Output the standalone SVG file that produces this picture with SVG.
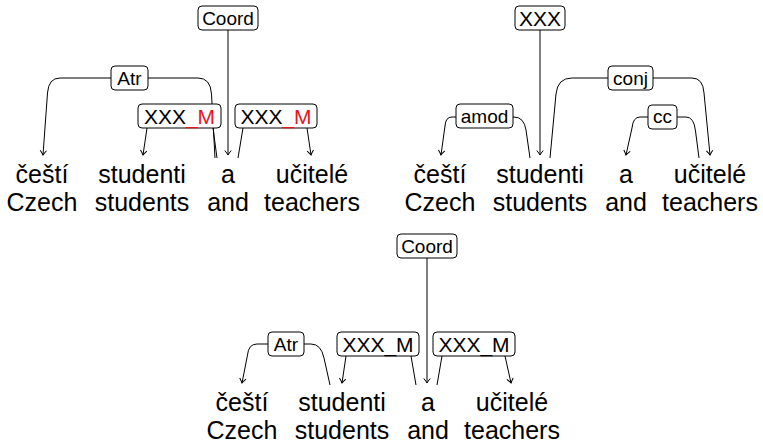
<svg xmlns="http://www.w3.org/2000/svg" width="763" height="443" viewBox="0 0 763 443">
<style>
.bg{fill:#fff}
.box{fill:#fff;stroke:#000;stroke-width:1}
.e{fill:none;stroke:#000;stroke-width:1}
.a{marker-end:url(#ah)}
text{font-family:"Liberation Sans",Arial,sans-serif;text-anchor:middle;fill:#000}
.lbl{font-size:19px}
.big{font-size:21px}
.w{font-size:25px}
.red{fill:#e8141c}
</style>
<defs>
<marker id="ah" viewBox="-6 -5 8 10" markerWidth="8" markerHeight="10" refX="0" refY="0" orient="auto" markerUnits="userSpaceOnUse">
<path d="M-4.5 -3.2 Q-1.5 -0.8 0 0 Q-1.5 0.8 -4.5 3.2" fill="none" stroke="#000" stroke-width="1"/>
</marker>
</defs>
<rect class="bg" x="0" y="0" width="763" height="443"/>

<g id="connectors">
<!-- diagram 1 -->
<path class="e a" d="M228 30 L228 155"/>
<path class="e a" d="M215 158 L211.5 94 Q210.5 78 198 78 L60 78 Q48.5 78 47.5 93 L43 155"/>
<path class="e" d="M217 158 L213 128"/>
<path class="e a" d="M147 128 L143 155"/>
<path class="e" d="M238 158 L243 128"/>
<path class="e a" d="M307 128 L311 155"/>
<!-- diagram 2 -->
<path class="e a" d="M540 30 L540 155"/>
<path class="e a" d="M530 158 L526 130 Q524 117 514 117 L452 117 Q445.5 117 445 126 L441 155"/>
<path class="e a" d="M550 158 L556 94 Q557.5 78 572 78 L692 78 Q703 78 704 93 L710 155"/>
<path class="e a" d="M699 158 L695.5 131 Q694 117 686 117 L640 117 Q633 117 632 128 L626 155"/>
<!-- diagram 3 -->
<path class="e a" d="M427 258 L427 383"/>
<path class="e a" d="M330 385 L324 358 Q321 344 311 344 L257 344 Q248.5 344 247.5 355 L242 383"/>
<path class="e a" d="M346 356 L342 383"/>
<path class="e" d="M416 385 L411 356"/>
<path class="e" d="M437 385 L442 356"/>
<path class="e a" d="M505 356 L511 383"/>
</g>

<!-- diagram 1 labels -->
<g id="d1-coord"><rect class="box" x="198" y="6" width="60" height="24" rx="4"/><text class="lbl" x="228" y="24.8">Coord</text></g>
<g id="d1-atr"><rect class="box" x="111" y="66" width="37" height="24" rx="4"/><text class="lbl" x="129.5" y="84.8">Atr</text></g>
<g id="d1-xxxm1"><rect class="box" x="138" y="104" width="83" height="24" rx="4"/><text class="big" x="179.5" y="123.5">XXX<tspan class="red">_M</tspan></text></g>
<g id="d1-xxxm2"><rect class="box" x="235" y="104" width="82" height="24" rx="4"/><text class="big" x="276" y="123.5">XXX<tspan class="red">_M</tspan></text></g>
<g id="d1-words">
<text class="w" x="42" y="183">čeští</text><text class="w" x="142" y="183">studenti</text><text class="w" x="228" y="183">a</text><text class="w" x="312" y="183">učitelé</text>
<text class="w" x="42" y="211">Czech</text><text class="w" x="142" y="211">students</text><text class="w" x="228" y="211">and</text><text class="w" x="312" y="211">teachers</text>
</g>

<!-- diagram 2 labels -->
<g id="d2-xxx"><rect class="box" x="515" y="6" width="50" height="24" rx="4"/><text class="big" x="540" y="25.5">XXX</text></g>
<g id="d2-conj"><rect class="box" x="608" y="66" width="45" height="24" rx="4"/><text class="lbl" x="630.5" y="84.5">conj</text></g>
<g id="d2-amod"><rect class="box" x="456" y="104" width="57" height="24" rx="4"/><text class="lbl" x="484.5" y="122.5">amod</text></g>
<g id="d2-cc"><rect class="box" x="648" y="105" width="29" height="24" rx="4"/><text class="lbl" x="662.5" y="123">cc</text></g>
<g id="d2-words">
<text class="w" x="440" y="183">čeští</text><text class="w" x="540" y="183">studenti</text><text class="w" x="626" y="183">a</text><text class="w" x="710" y="183">učitelé</text>
<text class="w" x="440" y="211">Czech</text><text class="w" x="540" y="211">students</text><text class="w" x="626" y="211">and</text><text class="w" x="710" y="211">teachers</text>
</g>

<!-- diagram 3 labels -->
<g id="d3-coord"><rect class="box" x="397" y="234" width="60" height="24" rx="4"/><text class="lbl" x="427" y="252.8">Coord</text></g>
<g id="d3-atr"><rect class="box" x="268" y="332" width="36" height="24" rx="4"/><text class="lbl" x="286" y="350.8">Atr</text></g>
<g id="d3-xxxm1"><rect class="box" x="337" y="332" width="82" height="24" rx="4"/><text class="big" x="378" y="351.5">XXX_M</text></g>
<g id="d3-xxxm2"><rect class="box" x="433" y="332" width="82" height="24" rx="4"/><text class="big" x="474" y="351.5">XXX_M</text></g>
<g id="d3-words">
<text class="w" x="242" y="411">čeští</text><text class="w" x="342" y="411">studenti</text><text class="w" x="428" y="411">a</text><text class="w" x="512" y="411">učitelé</text>
<text class="w" x="242" y="439">Czech</text><text class="w" x="342" y="439">students</text><text class="w" x="428" y="439">and</text><text class="w" x="512" y="439">teachers</text>
</g>
</svg>
